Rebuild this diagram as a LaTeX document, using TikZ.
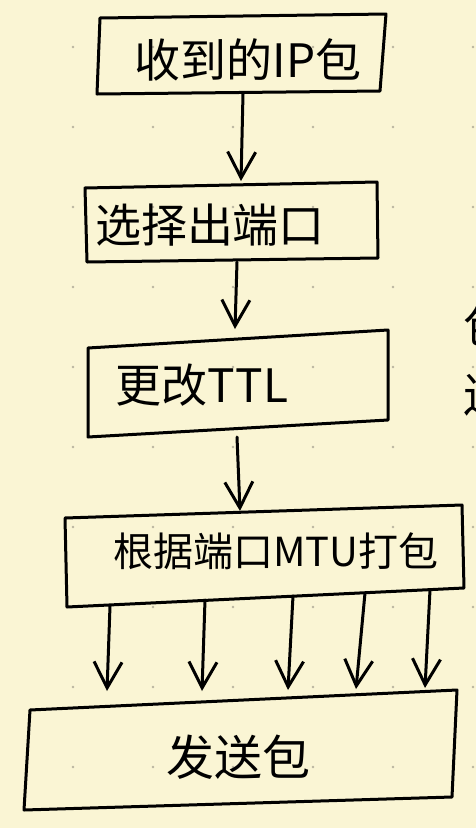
\documentclass[tikz,border=0pt]{standalone}
\usepackage{fontspec}
\setmainfont{Noto Sans CJK SC}
\usetikzlibrary{arrows.meta}
\definecolor{paper}{RGB}{250,245,212}
\definecolor{dotc}{RGB}{185,180,160}
\tikzset{
  ink/.style={line width=3pt, line join=round, line cap=round, black},
  arr/.style={ink, -{Straight Barb[length=26pt,width=28pt,line width=3pt]}},
  lbl/.style={inner sep=0pt, font=\fontsize{46}{46}\selectfont},
}
\begin{document}
\begin{tikzpicture}[x=1pt,y=-1pt]
\fill[paper] (0,0) rectangle (476,828);
\useasboundingbox (0,0) rectangle (476,828);
\foreach \i in {73,153,233,313,393,473}{
  \foreach \j in {47,127,207,287,367,447,527,607,687,767}{
    \fill[dotc] (\i,\j) circle (1.3);
  }
}
% box 1
\coordinate (b1nw) at (100,18); \coordinate (b1ne) at (386,14);
\coordinate (b1se) at (380,91); \coordinate (b1sw) at (97,94);
\draw[ink] (b1nw) -- (b1ne) -- (b1se) -- (b1sw) -- cycle;
\node[lbl] (t1) at (248,60) {收到的IP包};
% box 2
\coordinate (b2nw) at (85,188); \coordinate (b2ne) at (377,182);
\coordinate (b2se) at (378,258); \coordinate (b2sw) at (87,262);
\draw[ink] (b2nw) -- (b2ne) -- (b2se) -- (b2sw) -- cycle;
\node[lbl] (t2) at (210,225) {选择出端口};
% box 3
\coordinate (b3nw) at (88,348); \coordinate (b3ne) at (388,330);
\coordinate (b3se) at (388,420); \coordinate (b3sw) at (88,437);
\draw[ink] (b3nw) -- (b3ne) -- (b3se) -- (b3sw) -- cycle;
\node[lbl] (t3) at (202,385) {更改TTL};
% box 4
\coordinate (b4nw) at (65,518); \coordinate (b4ne) at (462,505);
\coordinate (b4se) at (464,588); \coordinate (b4sw) at (67,607);
\draw[ink] (b4nw) -- (b4ne) -- (b4se) -- (b4sw) -- cycle;
\node[lbl, font=\fontsize{40}{40}\selectfont] (t4) at (276,551) {根据端口MTU打包};
% box 5
\coordinate (b5nw) at (30,710); \coordinate (b5ne) at (457,690);
\coordinate (b5se) at (452,797); \coordinate (b5sw) at (24,810);
\draw[ink] (b5nw) -- (b5ne) -- (b5se) -- (b5sw) -- cycle;
\node[lbl, font=\fontsize{48}{48}\selectfont] (t5) at (238,757) {发送包};
% partial text cut off at the right edge
\node[lbl] (e1) at (486,325) {包};
\node[lbl] (e2) at (486,395) {送};
% connectors
\coordinate (a1s) at (243,94);  \coordinate (a1e) at (241,181);
\coordinate (a2s) at (237,262); \coordinate (a2e) at (235,329);
\coordinate (a3s) at (237,437); \coordinate (a3e) at (240,511);
\draw[arr] (a1s) -- (a1e);
\draw[arr] (a2s) -- (a2e);
\draw[arr] (a3s) -- (a3e);
\foreach \n/\xs/\ys/\xe/\ye in {1/110/606/107/691, 2/205/600/202/691, 3/293/596/288/690, 4/365/593/356/689, 5/430/590/425/688}{
  \coordinate (p\n s) at (\xs,\ys);
  \coordinate (p\n e) at (\xe,\ye);
  \draw[arr] (p\n s) -- (p\n e);
}
\end{tikzpicture}
\end{document}
